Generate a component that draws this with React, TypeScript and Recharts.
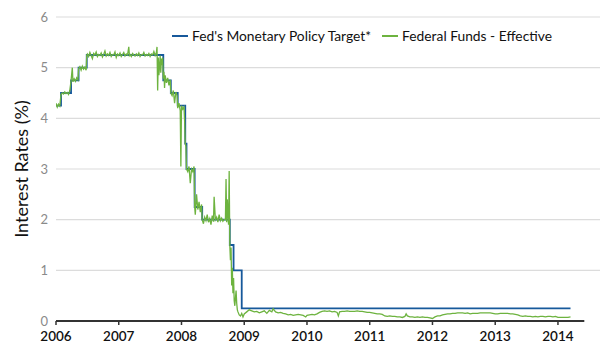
import React from 'react'
import {
  LineChart,
  Line,
  XAxis,
  YAxis,
  CartesianGrid,
  ReferenceLine,
  Label
} from 'recharts'

const FONT = 'Lato, "Open Sans", sans-serif'
const BLUE = '#17599b'
const GREEN = '#6db33f'

const YEAR_TICKS = [2006, 2007, 2008, 2009, 2010, 2011, 2012, 2013, 2014]
const RATE_TICKS = [0, 1, 2, 3, 4, 5, 6]

// Fed's target: [decimal year, rate]
const targetSteps: Array<[number, number]> = [
  [2006.0, 4.25], [2006.08, 4.5], [2006.24, 4.75], [2006.36, 5.0], [2006.49, 5.25],
  [2007.71, 4.75], [2007.83, 4.5], [2007.94, 4.25], [2008.06, 3.5], [2008.08, 3.0],
  [2008.21, 2.25], [2008.33, 2.0], [2008.77, 1.5], [2008.83, 1.0], [2008.96, 0.25],
  [2014.2, 0.25]
]

// effective fed funds rate
const eff2006: Array<[number, number]> = [
  [2006.0, 4.3], [2006.02, 4.22], [2006.04, 4.28], [2006.06, 4.24], [2006.08, 4.47],
  [2006.1, 4.5], [2006.12, 4.48], [2006.14, 4.52], [2006.16, 4.49], [2006.18, 4.51],
  [2006.2, 4.47], [2006.22, 4.55], [2006.24, 4.74], [2006.26, 5.0], [2006.27, 4.72],
  [2006.29, 4.78], [2006.31, 4.73], [2006.33, 4.8], [2006.35, 4.76], [2006.36, 4.98],
  [2006.38, 5.02], [2006.4, 4.95], [2006.42, 5.03], [2006.44, 4.97], [2006.46, 5.01],
  [2006.48, 4.95], [2006.49, 5.24], [2006.5, 5.27], [2006.52, 5.22], [2006.54, 5.3],
  [2006.56, 5.24], [2006.58, 5.18], [2006.6, 5.28], [2006.62, 5.25], [2006.64, 5.31],
  [2006.66, 5.22], [2006.68, 5.26], [2006.7, 5.24], [2006.72, 5.29], [2006.74, 5.21],
  [2006.76, 5.26], [2006.78, 5.33], [2006.8, 5.23], [2006.82, 5.27], [2006.84, 5.24],
  [2006.86, 5.3], [2006.88, 5.22], [2006.9, 5.26], [2006.92, 5.25], [2006.94, 5.31],
  [2006.96, 5.2], [2006.98, 5.27]
]

const eff2007: Array<[number, number]> = [
  [2007.0, 5.24], [2007.02, 5.29], [2007.04, 5.22], [2007.06, 5.26], [2007.08, 5.3],
  [2007.1, 5.23], [2007.12, 5.27], [2007.14, 5.25], [2007.16, 5.41], [2007.17, 5.24],
  [2007.18, 5.26], [2007.2, 5.22], [2007.22, 5.28], [2007.24, 5.25], [2007.26, 5.23],
  [2007.28, 5.27], [2007.3, 5.24], [2007.32, 5.29], [2007.34, 5.22], [2007.36, 5.26],
  [2007.38, 5.25], [2007.4, 5.3], [2007.42, 5.23], [2007.44, 5.26], [2007.46, 5.24],
  [2007.48, 5.28], [2007.5, 5.22], [2007.52, 5.27], [2007.54, 5.25], [2007.56, 5.32],
  [2007.58, 5.24], [2007.6, 5.3], [2007.61, 5.41], [2007.62, 4.55], [2007.63, 5.2],
  [2007.64, 4.85], [2007.65, 5.02], [2007.66, 5.24], [2007.67, 4.9], [2007.68, 5.18],
  [2007.69, 5.05], [2007.7, 5.2], [2007.71, 4.78], [2007.72, 4.92], [2007.73, 4.6],
  [2007.74, 4.85], [2007.76, 4.7], [2007.78, 4.8], [2007.8, 4.65], [2007.82, 4.76],
  [2007.83, 4.5], [2007.85, 4.45], [2007.87, 4.55], [2007.89, 4.3], [2007.91, 4.52],
  [2007.93, 4.45], [2007.94, 4.2], [2007.96, 4.3], [2007.98, 4.15], [2007.99, 3.05]
]

const eff2008: Array<[number, number]> = [
  [2008.0, 4.25], [2008.02, 4.18], [2008.04, 4.22], [2008.05, 3.95], [2008.06, 3.5],
  [2008.07, 3.45], [2008.08, 3.0], [2008.1, 2.95], [2008.12, 3.05], [2008.14, 2.72],
  [2008.16, 3.0], [2008.18, 2.95], [2008.2, 3.05], [2008.21, 2.25], [2008.22, 2.1],
  [2008.24, 2.5], [2008.26, 2.2], [2008.28, 2.35], [2008.3, 2.15], [2008.32, 2.3],
  [2008.33, 2.0], [2008.35, 1.92], [2008.37, 2.05], [2008.39, 1.98], [2008.41, 2.1],
  [2008.43, 1.95], [2008.45, 2.02], [2008.47, 1.9], [2008.49, 2.08], [2008.51, 1.96],
  [2008.52, 2.45], [2008.54, 2.0], [2008.56, 2.05], [2008.58, 1.95], [2008.6, 2.1],
  [2008.62, 1.98], [2008.64, 2.03], [2008.66, 1.97], [2008.68, 2.0], [2008.7, 2.0],
  [2008.71, 2.8], [2008.72, 1.95], [2008.73, 2.4], [2008.74, 2.1], [2008.75, 1.9],
  [2008.76, 2.96], [2008.77, 1.5], [2008.78, 1.2], [2008.79, 1.45], [2008.8, 0.7],
  [2008.81, 1.05], [2008.82, 0.55], [2008.83, 0.85], [2008.84, 0.4], [2008.85, 0.3],
  [2008.86, 0.45], [2008.87, 0.6], [2008.88, 0.35], [2008.89, 0.22], [2008.9, 0.18],
  [2008.92, 0.12], [2008.94, 0.1], [2008.96, 0.15], [2008.98, 0.08]
]

const eff2009: Array<[number, number]> = [
  [2009.0, 0.14], [2009.04, 0.18], [2009.08, 0.22], [2009.12, 0.2], [2009.16, 0.18],
  [2009.2, 0.19], [2009.24, 0.16], [2009.28, 0.18], [2009.32, 0.2], [2009.36, 0.15],
  [2009.4, 0.21], [2009.44, 0.18], [2009.46, 0.24], [2009.5, 0.18], [2009.54, 0.16],
  [2009.58, 0.17], [2009.62, 0.15], [2009.66, 0.14], [2009.7, 0.12], [2009.74, 0.13],
  [2009.78, 0.11], [2009.82, 0.12], [2009.86, 0.13], [2009.9, 0.12], [2009.94, 0.11],
  [2009.98, 0.08]
]

const eff2010: Array<[number, number]> = [
  [2010.0, 0.11], [2010.04, 0.12], [2010.08, 0.13], [2010.12, 0.12], [2010.16, 0.14],
  [2010.2, 0.17], [2010.24, 0.19], [2010.28, 0.2], [2010.32, 0.19], [2010.36, 0.2],
  [2010.4, 0.18], [2010.44, 0.19], [2010.48, 0.17], [2010.5, 0.1], [2010.52, 0.18],
  [2010.56, 0.19], [2010.6, 0.19], [2010.64, 0.2], [2010.68, 0.19], [2010.72, 0.19],
  [2010.76, 0.19], [2010.8, 0.2], [2010.84, 0.19], [2010.88, 0.19], [2010.92, 0.18],
  [2010.96, 0.17]
]

const eff2011: Array<[number, number]> = [
  [2011.0, 0.17], [2011.04, 0.16], [2011.08, 0.15], [2011.12, 0.14], [2011.16, 0.14],
  [2011.2, 0.13], [2011.24, 0.1], [2011.28, 0.09], [2011.32, 0.1], [2011.36, 0.09],
  [2011.4, 0.09], [2011.44, 0.08], [2011.48, 0.08], [2011.52, 0.07], [2011.56, 0.09],
  [2011.58, 0.14], [2011.6, 0.1], [2011.64, 0.08], [2011.68, 0.08], [2011.72, 0.07],
  [2011.76, 0.08], [2011.8, 0.07], [2011.84, 0.08], [2011.88, 0.07], [2011.92, 0.07],
  [2011.96, 0.06]
]

const eff2012: Array<[number, number]> = [
  [2012.0, 0.05], [2012.04, 0.08], [2012.08, 0.1], [2012.12, 0.1], [2012.16, 0.12],
  [2012.2, 0.13], [2012.24, 0.14], [2012.28, 0.14], [2012.32, 0.15], [2012.36, 0.15],
  [2012.4, 0.16], [2012.44, 0.16], [2012.48, 0.16], [2012.52, 0.15], [2012.56, 0.16],
  [2012.6, 0.14], [2012.64, 0.15], [2012.68, 0.15], [2012.72, 0.15], [2012.76, 0.16],
  [2012.8, 0.16], [2012.84, 0.16], [2012.88, 0.16], [2012.92, 0.16], [2012.96, 0.15]
]

const eff2013: Array<[number, number]> = [
  [2013.0, 0.14], [2013.04, 0.14], [2013.08, 0.15], [2013.12, 0.15], [2013.16, 0.15],
  [2013.2, 0.15], [2013.24, 0.14], [2013.28, 0.14], [2013.32, 0.13], [2013.36, 0.12],
  [2013.4, 0.1], [2013.44, 0.09], [2013.48, 0.1], [2013.52, 0.09], [2013.56, 0.09],
  [2013.6, 0.08], [2013.64, 0.09], [2013.68, 0.08], [2013.72, 0.09], [2013.76, 0.09],
  [2013.8, 0.08], [2013.84, 0.09], [2013.88, 0.09], [2013.92, 0.08], [2013.96, 0.09]
]

const eff2014: Array<[number, number]> = [
  [2014.0, 0.07], [2014.04, 0.07], [2014.08, 0.07], [2014.12, 0.07], [2014.16, 0.07],
  [2014.2, 0.08]
]

const toRows = (pairs: Array<[number, number]>) => pairs.map(([t, v]) => ({ t, v }))

const targetData = toRows(targetSteps)
const effectiveData = toRows([
  ...eff2006, ...eff2007, ...eff2008, ...eff2009, ...eff2010,
  ...eff2011, ...eff2012, ...eff2013, ...eff2014
])

const LEGEND_ITEMS = [
  { name: "Fed's Monetary Policy Target*", color: BLUE },
  { name: 'Federal Funds - Effective', color: GREEN }
]

function ChartLegend() {
  return (
    <div
      style={{
        position: 'absolute',
        top: 27,
        left: 172,
        display: 'flex',
        fontFamily: FONT,
        fontSize: 13.8,
        lineHeight: '18px',
        color: '#111'
      }}
    >
      {LEGEND_ITEMS.map((item) => (
        <div key={item.name} style={{ display: 'flex', alignItems: 'center', marginRight: 11 }}>
          <span
            style={{ display: 'inline-block', width: 16, height: 2, background: item.color, marginRight: 4 }}
          />
          <span>{item.name}</span>
        </div>
      ))}
    </div>
  )
}

export default function App() {
  return (
    <div style={{ position: 'absolute', left: 0, top: 0, width: 600, height: 360, background: '#fff' }}>
      <LineChart width={600} height={360} margin={{ top: 17, right: 0, bottom: 9, left: 0 }}>
        <CartesianGrid
          vertical={false}
          horizontalValues={[1, 2, 3, 4, 5, 6]}
          stroke="#dcdcdc"
          strokeWidth={1.2}
        />
        <XAxis
          type="number"
          dataKey="t"
          domain={[2006, 2014.67]}
          ticks={YEAR_TICKS}
          allowDataOverflow
          axisLine={false}
          tickLine={{ stroke: '#333', strokeWidth: 1.5 }}
          tickSize={4}
          tickMargin={6}
          height={30}
          tick={{ fill: '#111', fontSize: 13.5, fontFamily: FONT, fontWeight: 600 }}
        />
        <YAxis
          type="number"
          domain={[0, 6]}
          ticks={RATE_TICKS}
          width={56}
          axisLine={false}
          tickLine={false}
          tick={{ fill: '#8a8a8a', fontSize: 13, fontFamily: FONT }}
        >
          <Label
            value="Interest Rates (%)"
            angle={-90}
            position="insideLeft"
            offset={22}
            style={{ textAnchor: 'middle', fontFamily: FONT, fontSize: 18, fill: '#111' }}
          />
        </YAxis>
        <ReferenceLine
          segment={[{ x: 2006, y: 0 }, { x: 2014.42, y: 0 }]}
          stroke="#333"
          strokeWidth={2}
        />
        <Line
          data={targetData}
          dataKey="v"
          type="stepAfter"
          stroke={BLUE}
          strokeWidth={1.8}
          dot={false}
          activeDot={false}
          isAnimationActive={false}
        />
        <Line
          data={effectiveData}
          dataKey="v"
          type="linear"
          stroke={GREEN}
          strokeWidth={1.3}
          dot={false}
          activeDot={false}
          isAnimationActive={false}
        />
      </LineChart>
      <ChartLegend />
    </div>
  )
}
